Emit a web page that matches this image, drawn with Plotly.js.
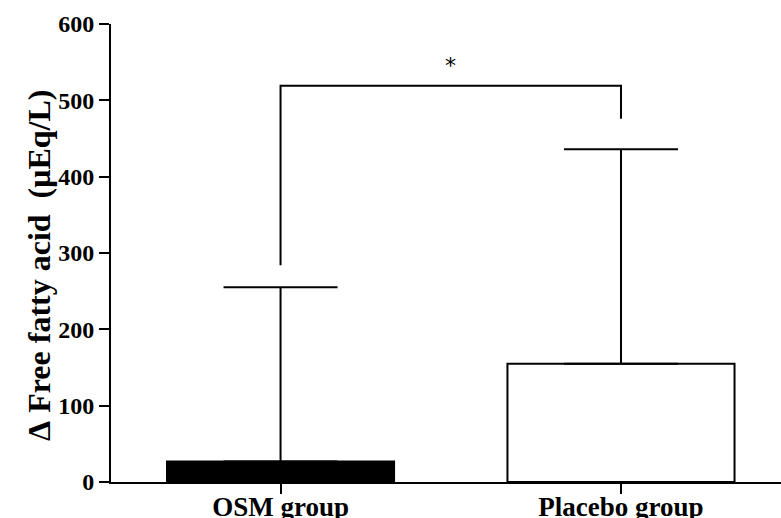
<!DOCTYPE html>
<html>
<head>
<meta charset="utf-8">
<script src="https://cdn.plot.ly/plotly-3.0.1.min.js"></script>
<style>html,body{margin:0;padding:0;background:#fff;}#chart{width:781px;height:518px;}</style>
</head>
<body>
<div id="chart"></div>
<script>
const categories = ["OSM group", "Placebo group"];
const meanValues = [27, 155];
const upperValues = [255, 436];
const barColors = ["#000000", "#ffffff"];
const bracketLow = [284, 476];
const bracketTop = 519;
const sigLabel = "*";
const sigY = 546;
const yTitle = "\u0394\u00a0Free fatty acid\u00a0\u00a0(\u03bcEq/L)";

const catIdx = categories.map((c, i) => i);
const errPlus = meanValues.map((v, i) => upperValues[i] - v);
const errMinus = meanValues.map(() => 0);

const fontFam = "'Liberation Serif', 'Times New Roman', serif";

const bars = {
  type: "bar",
  x: catIdx,
  y: meanValues,
  width: 0.667,
  marker: {color: barColors, line: {color: "#000", width: 2}},
  error_y: {type: "data", symmetric: false, array: errPlus, arrayminus: errMinus,
            color: "#000", thickness: 2, width: 57},
  hoverinfo: "skip",
  showlegend: false
};

const bracket = {
  type: "scatter",
  mode: "lines",
  x: [catIdx[0], catIdx[0], catIdx[1], catIdx[1]],
  y: [bracketLow[0], bracketTop, bracketTop, bracketLow[1]],
  line: {color: "#000", width: 2},
  hoverinfo: "skip",
  showlegend: false
};

const layout = {
  width: 781, height: 518,
  margin: {l: 111, r: 0, t: 24, b: 36},
  paper_bgcolor: "#fff", plot_bgcolor: "#fff",
  font: {family: fontFam, color: "#000"},
  xaxis: {
    range: [-0.498, 1.47],
    tickmode: "array", tickvals: catIdx, ticktext: categories,
    ticks: "outside", ticklen: 10, tickwidth: 2, tickcolor: "#000",
    ticklabelstandoff: -10,
    showline: true, linecolor: "#000", linewidth: 2,
    showgrid: false, zeroline: false,
    tickfont: {family: fontFam, size: 27, weight: "bold", color: "#000"}
  },
  yaxis: {
    range: [0, 600],
    tickvals: [0, 100, 200, 300, 400, 500, 600],
    ticks: "outside", ticklen: 10, tickwidth: 2, tickcolor: "#000",
    showline: true, linecolor: "#000", linewidth: 2,
    showgrid: false, zeroline: false,
    tickfont: {family: fontFam, size: 24, weight: "bold", color: "#000"}
  },
  annotations: [{
    x: 0.5, y: sigY, xref: "x", yref: "y", text: sigLabel, showarrow: false,
    font: {family: "'DejaVu Sans', sans-serif", size: 22, color: "#000"}
  }, {
    x: -0.1075, y: 0.474, xref: "paper", yref: "paper", text: yTitle, showarrow: false,
    textangle: -90, xanchor: "center", yanchor: "middle",
    font: {family: fontFam, size: 32, weight: "bold", color: "#000"}
  }]
};

Plotly.newPlot("chart", [bars, bracket], layout, {staticPlot: true, displayModeBar: false});
</script>
</body>
</html>
